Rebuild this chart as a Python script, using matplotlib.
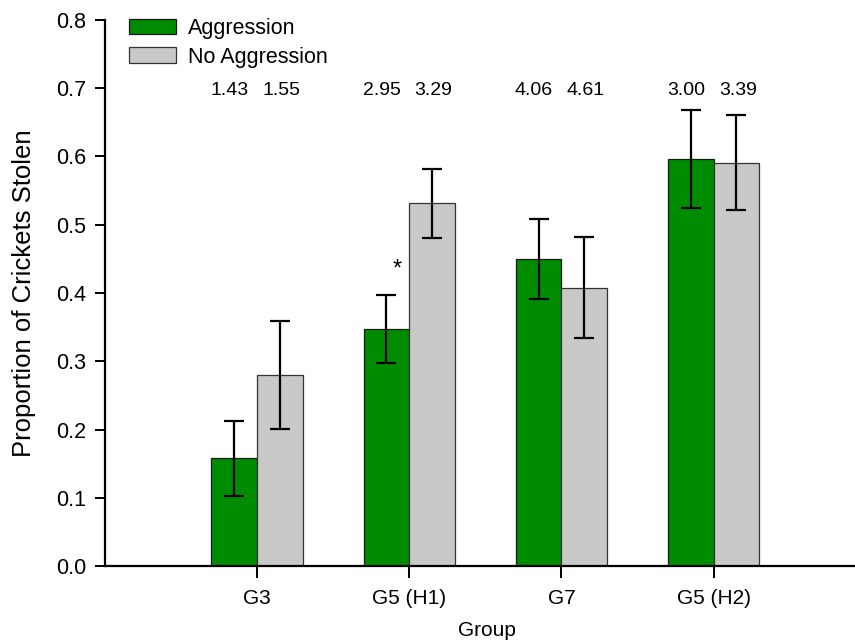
import numpy as np
import matplotlib
matplotlib.use("Agg")
import matplotlib.pyplot as plt

plt.rcParams["font.family"] = ["Liberation Sans", "DejaVu Sans"]

groups = ["G3", "G5 (H1)", "G7", "G5 (H2)"]
aggression = [0.158, 0.347, 0.450, 0.596]
aggressionErr = [0.055, 0.050, 0.059, 0.072]
noAggression = [0.280, 0.531, 0.408, 0.591]
noAggressionErr = [0.079, 0.051, 0.074, 0.070]
aggressionLabels = ["1.43", "2.95", "4.06", "3.00"]
noAggressionLabels = ["1.55", "3.29", "4.61", "3.39"]
yTicks = [0.0, 0.1, 0.2, 0.3, 0.4, 0.5, 0.6, 0.7, 0.8]

green = "#008c00"
grey = "#c8c8c8"
width = 0.3

fig = plt.figure(figsize=(8.55, 6.4), dpi=100)
ax = fig.add_axes([0.1228, 0.1152, 0.8772, 0.8540])

x = np.arange(1, len(groups) + 1)
errStyle = dict(ecolor="black", elinewidth=1.6, capsize=7.5, capthick=1.6)
ax.bar(x - width / 2, aggression, width, yerr=aggressionErr, color=green,
       edgecolor="#1a1a1a", linewidth=0.9, label="Aggression", error_kw=errStyle)
ax.bar(x + width / 2, noAggression, width, yerr=noAggressionErr, color=grey,
       edgecolor="#333333", linewidth=0.9, label="No Aggression", error_kw=errStyle)

# numbers above each bar
for i in range(len(groups)):
    ax.text(x[i] - width / 2 - 0.03, 0.696, aggressionLabels[i], ha="center", va="center", fontsize=14)
    ax.text(x[i] + width / 2 + 0.01, 0.696, noAggressionLabels[i], ha="center", va="center", fontsize=14)

# significance mark
ax.text(x[1] - width / 2 + 0.07, 0.435, "*", ha="center", va="center", fontsize=17)

ax.set_xlim(0, 4.93)
ax.set_ylim(0, 0.8)
ax.set_xticks(x)
ax.set_xticklabels(groups)
ax.set_yticks(yTicks)
ax.set_yticklabels(["{:.1f}".format(v) for v in yTicks])

for side in ["top", "right"]:
    ax.spines[side].set_visible(False)
ax.spines["left"].set_linewidth(1.6)
ax.spines["bottom"].set_linewidth(1.6)
ax.tick_params(axis="y", length=7.5, width=1.4, labelsize=15.5, pad=6)
ax.tick_params(axis="x", length=8.5, width=1.4, labelsize=15, pad=8)

ax.set_ylabel("Proportion of Crickets Stolen", fontsize=18.5)
ax.yaxis.set_label_coords(-0.092, 0.5)
ax.set_xlabel("Group", fontsize=15)
ax.xaxis.set_label_coords(0.509, -0.1)

ax.legend(loc="upper left", bbox_to_anchor=(129 / 855, 1 - 18 / 640),
          bbox_transform=fig.transFigure, frameon=False, fontsize=15.5,
          borderpad=0, borderaxespad=0, handlelength=2.2, handleheight=0.72,
          handletextpad=0.55, labelspacing=0.35)

plt.savefig("out.png", dpi=100)
